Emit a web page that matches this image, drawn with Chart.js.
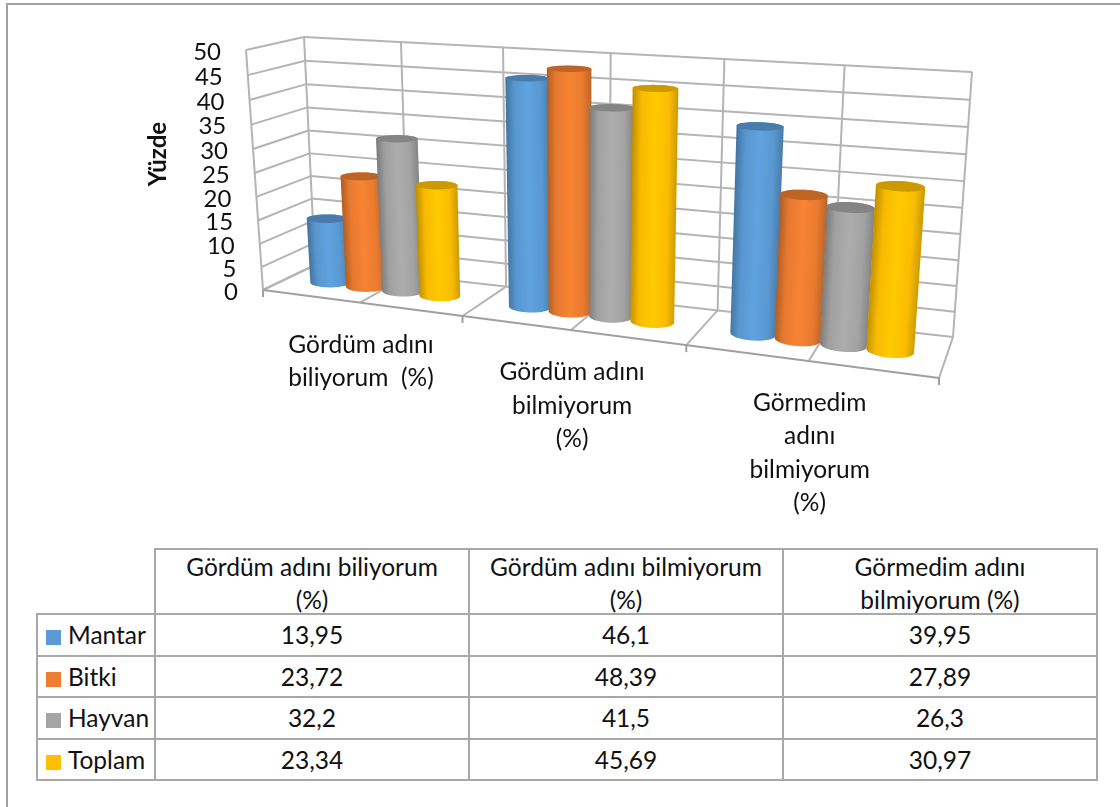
<!DOCTYPE html>
<html>
<head>
<meta charset="utf-8">
<title>Yüzde</title>
<script src="https://cdn.jsdelivr.net/npm/chart.js@4/dist/chart.umd.min.js"></script>
<style>
html, body { margin: 0; padding: 0; background: #fff; width: 1120px; height: 807px; overflow: hidden; }
#wrap { position: relative; width: 1120px; height: 807px; }
#frameTop { position: absolute; left: 6px; top: 3px; width: 1114px; height: 2px; background: #a0a0a0; }
#frameLeft { position: absolute; left: 6px; top: 3px; width: 2px; height: 804px; background: #a0a0a0; }
canvas { position: absolute; left: 0; top: 0; }
#dataTable {
    position: absolute; left: 36px; top: 548px; width: 1060px; table-layout: fixed;
    border-collapse: collapse; font: 24.5px Lato, sans-serif; color: #111; background: #fff;
}
#dataTable td { border: 2px solid #a8a8a8; padding: 0; text-align: center; line-height: 30px; }
#dataTable td.blank { border-top: none; border-left: none; }
#dataTable td.name { text-align: left; padding-left: 8px; white-space: nowrap; }
#dataTable td .head { height: 63px; line-height: 33px; }
.swatch { display: inline-block; width: 15px; height: 15px; margin-right: 7px; vertical-align: -1px; }
</style>
</head>
<body>
<div id="wrap">
    <div id="frameTop"></div>
    <div id="frameLeft"></div>
    <canvas id="barChart" width="1120" height="807"></canvas>
    <table id="dataTable"></table>
</div>
<script>
// Veriler
const categories = ['Gördüm adını biliyorum (%)', 'Gördüm adını bilmiyorum (%)', 'Görmedim adını bilmiyorum  (%)'];
const axisLines = [
    ['Gördüm adını', 'biliyorum  (%)'],
    ['Gördüm adını', 'bilmiyorum', '(%)'],
    ['Görmedim', 'adını', 'bilmiyorum', '(%)']
];
const tableHeads = [
    ['Gördüm adını biliyorum', '(%)'],
    ['Gördüm adını bilmiyorum', '(%)'],
    ['Görmedim adını', 'bilmiyorum  (%)']
];
const seriesNames = ['Mantar', 'Bitki', 'Hayvan', 'Toplam'];
const mantar = [13.95, 46.1, 39.95];
const bitki = [23.72, 48.39, 27.89];
const hayvan = [32.2, 41.5, 26.3];
const toplam = [23.34, 45.69, 30.97];
const seriesColors = ['#5B9BD5', '#ED7D31', '#A5A5A5', '#FFC000'];
const yTicks = [0, 5, 10, 15, 20, 25, 30, 35, 40, 45, 50];
const yTitle = 'Yüzde';

// Perspektif kutusunun köşeleri (sol-alt, sağ-alt, sağ-üst, sol-üst)
const backWall = [[315, 265], [953, 337], [972, 72], [304, 37]];
const frontWall = [[263, 290], [939, 378], [961, 94], [246, 50]];
const gridColor = '#b4b4b4';
const font = 'Lato, sans-serif';

// Birim kareden dörtgene izdüşüm
function quadMap(q) {
    const [[x0, y0], [x1, y1], [x2, y2], [x3, y3]] = q;
    const dx1 = x1 - x2, dx2 = x3 - x2, sx = x0 - x1 + x2 - x3;
    const dy1 = y1 - y2, dy2 = y3 - y2, sy = y0 - y1 + y2 - y3;
    const den = dx1 * dy2 - dx2 * dy1;
    const g = (sx * dy2 - dx2 * sy) / den;
    const h = (dx1 * sy - sx * dy1) / den;
    const a = x1 - x0 + g * x1, b = x3 - x0 + h * x3;
    const d = y1 - y0 + g * y1, e = y3 - y0 + h * y3;
    return (u, v) => {
        const k = g * u + h * v + 1;
        return [(a * u + b * v + x0) / k, (d * u + e * v + y0) / k];
    };
}
const mapBack = quadMap(backWall);
const mapFront = quadMap(frontWall);

// u: yatay, v: yükseklik, w: derinlik (0 ön, 1 arka)
function project(u, v, w) {
    const f = mapFront(u, v), b = mapBack(u, v);
    return [f[0] + (b[0] - f[0]) * w, f[1] + (b[1] - f[1]) * w];
}

function convexHull(points) {
    const pts = points.slice().sort((p, q) => p[0] - q[0] || p[1] - q[1]);
    const cross = (o, p, q) => (p[0] - o[0]) * (q[1] - o[1]) - (p[1] - o[1]) * (q[0] - o[0]);
    const half = list => {
        const out = [];
        for (const p of list) {
            while (out.length > 1 && cross(out[out.length - 2], out[out.length - 1], p) <= 0) out.pop();
            out.push(p);
        }
        out.pop();
        return out;
    };
    return half(pts).concat(half(pts.slice().reverse()));
}

function shade(hex, k) {
    const n = parseInt(hex.slice(1), 16);
    const c = [n >> 16, (n >> 8) & 255, n & 255].map(x => Math.min(255, Math.round(x * k)));
    return `rgb(${c[0]},${c[1]},${c[2]})`;
}

function tracePath(ctx, pts) {
    ctx.beginPath();
    pts.forEach((p, i) => i ? ctx.lineTo(p[0], p[1]) : ctx.moveTo(p[0], p[1]));
    ctx.closePath();
}

function line(ctx, a, b) {
    ctx.beginPath();
    ctx.moveTo(a[0], a[1]);
    ctx.lineTo(b[0], b[1]);
    ctx.stroke();
}

function drawBox(chart) {
    const { ctx, chartArea: area, scales } = chart;
    const toV = val => (area.bottom - scales.y.getPixelForValue(val)) / area.height;
    ctx.save();
    ctx.strokeStyle = gridColor;
    ctx.lineWidth = 2;
    // Yatay çizgiler: arka duvar ve yan duvar
    yTicks.forEach(t => {
        const v = toV(t);
        line(ctx, project(0, v, 1), project(1, v, 1));
        line(ctx, project(0, v, 0), project(0, v, 1));
    });
    // Dikey ve zemin çizgileri
    for (let i = 0; i <= 6; i++) {
        const u = i / 6;
        line(ctx, project(u, 0, 1), project(u, 1, 1));
        line(ctx, project(u, 0, 0), project(u, 0, 1));
    }
    line(ctx, project(0, 0, 0), project(0, 1, 0));
    ctx.strokeStyle = '#a0a0a0';
    line(ctx, project(0, 0, 0), project(1, 0, 0));
    // Kategori çentikleri
    for (let i = 0; i <= categories.length; i++) {
        const p = project(i / categories.length, 0, 0);
        line(ctx, p, [p[0], p[1] + 7]);
    }
    // Eksen yazıları
    ctx.fillStyle = '#111';
    ctx.font = '24px ' + font;
    ctx.textAlign = 'right';
    ctx.textBaseline = 'middle';
    yTicks.forEach(t => {
        const p = project(0, toV(t), 0);
        ctx.fillText(String(t), p[0] - 25, p[1] + 2);
    });
    ctx.font = '24.5px ' + font;
    ctx.textAlign = 'center';
    axisLines.forEach((lines, i) => {
        const p = project((i + 0.5) / categories.length, 0, 0);
        lines.forEach((s, j) => ctx.fillText(s, p[0] + 1, p[1] + 42 + j * 33.5));
    });
    ctx.translate(158, 154);
    ctx.rotate(-Math.PI / 2);
    ctx.font = 'bold 24px ' + font;
    ctx.fillText(yTitle, 0, 0);
    ctx.restore();
}

function drawCylinder(chart, bar, color) {
    const { ctx, chartArea: area } = chart;
    const uc = (bar.x - area.left) / area.width;
    const ru = bar.width / area.width / 2;
    const rw = 0.17, wc = 0.5;
    const vTop = (area.bottom - bar.y) / area.height;
    const vBase = (area.bottom - bar.base) / area.height;
    const ring = v => {
        const pts = [];
        for (let i = 0; i < 48; i++) {
            const t = i / 48 * Math.PI * 2;
            pts.push(project(uc + ru * Math.cos(t), v, wc + rw * Math.sin(t)));
        }
        return pts;
    };
    const top = ring(vTop), base = ring(vBase);
    const a = project(uc, vBase, wc), b = project(uc, vTop, wc);
    const axisLen = Math.hypot(b[0] - a[0], b[1] - a[1]);
    const nx = -(b[1] - a[1]) / axisLen, ny = (b[0] - a[0]) / axisLen;
    const half = Math.max(...top.concat(base).map(p => Math.abs((p[0] - a[0]) * nx + (p[1] - a[1]) * ny)));
    const grad = ctx.createLinearGradient(a[0] + nx * half, a[1] + ny * half, a[0] - nx * half, a[1] - ny * half);
    grad.addColorStop(0, shade(color, 0.8));
    grad.addColorStop(0.2, shade(color, 0.98));
    grad.addColorStop(0.5, shade(color, 1.05));
    grad.addColorStop(0.8, shade(color, 0.97));
    grad.addColorStop(1, shade(color, 0.74));
    ctx.fillStyle = grad;
    tracePath(ctx, convexHull(top.concat(base)));
    ctx.fill();
    ctx.fillStyle = shade(color, 0.8);
    tracePath(ctx, top);
    ctx.fill();
}

const box3d = {
    id: 'box3d',
    beforeDatasetDraw() { return false; },
    afterDatasetsDraw(chart) {
        drawBox(chart);
        chart.data.datasets.forEach((ds, d) => {
            chart.getDatasetMeta(d).data.forEach(bar => drawCylinder(chart, bar, ds.backgroundColor));
        });
    }
};

new Chart(document.getElementById('barChart'), {
    type: 'bar',
    data: {
        labels: categories,
        datasets: [mantar, bitki, hayvan, toplam].map((values, i) => ({
            label: seriesNames[i],
            data: values,
            backgroundColor: seriesColors[i],
            categoryPercentage: 0.75,
            barPercentage: 1
        }))
    },
    options: {
        responsive: false,
        animation: false,
        layout: { padding: 0 },
        plugins: { legend: { display: false }, tooltip: { enabled: false } },
        scales: {
            x: { display: false },
            y: { display: false, min: 0, max: 50 }
        }
    },
    plugins: [box3d]
});

// Veri tablosu
function buildTable() {
    const rowHeights = [65, 42, 41, 42, 41];
    const rows = [mantar, bitki, hayvan, toplam];
    let html = '<colgroup><col style="width:118px"><col style="width:314px"><col style="width:314px"><col style="width:314px"></colgroup>';
    html += `<tr style="height:${rowHeights[0]}px"><td class="blank"></td>` +
        tableHeads.map(h => `<td><div class="head">${h.join('<br>')}</div></td>`).join('') + '</tr>';
    rows.forEach((vals, i) => {
        html += `<tr style="height:${rowHeights[i + 1]}px"><td class="name"><span class="swatch" style="background:${seriesColors[i]}"></span>${seriesNames[i]}</td>` +
            vals.map(v => `<td>${String(v).replace('.', ',')}</td>`).join('') + '</tr>';
    });
    document.getElementById('dataTable').innerHTML = html;
}
buildTable();
</script>
</body>
</html>
